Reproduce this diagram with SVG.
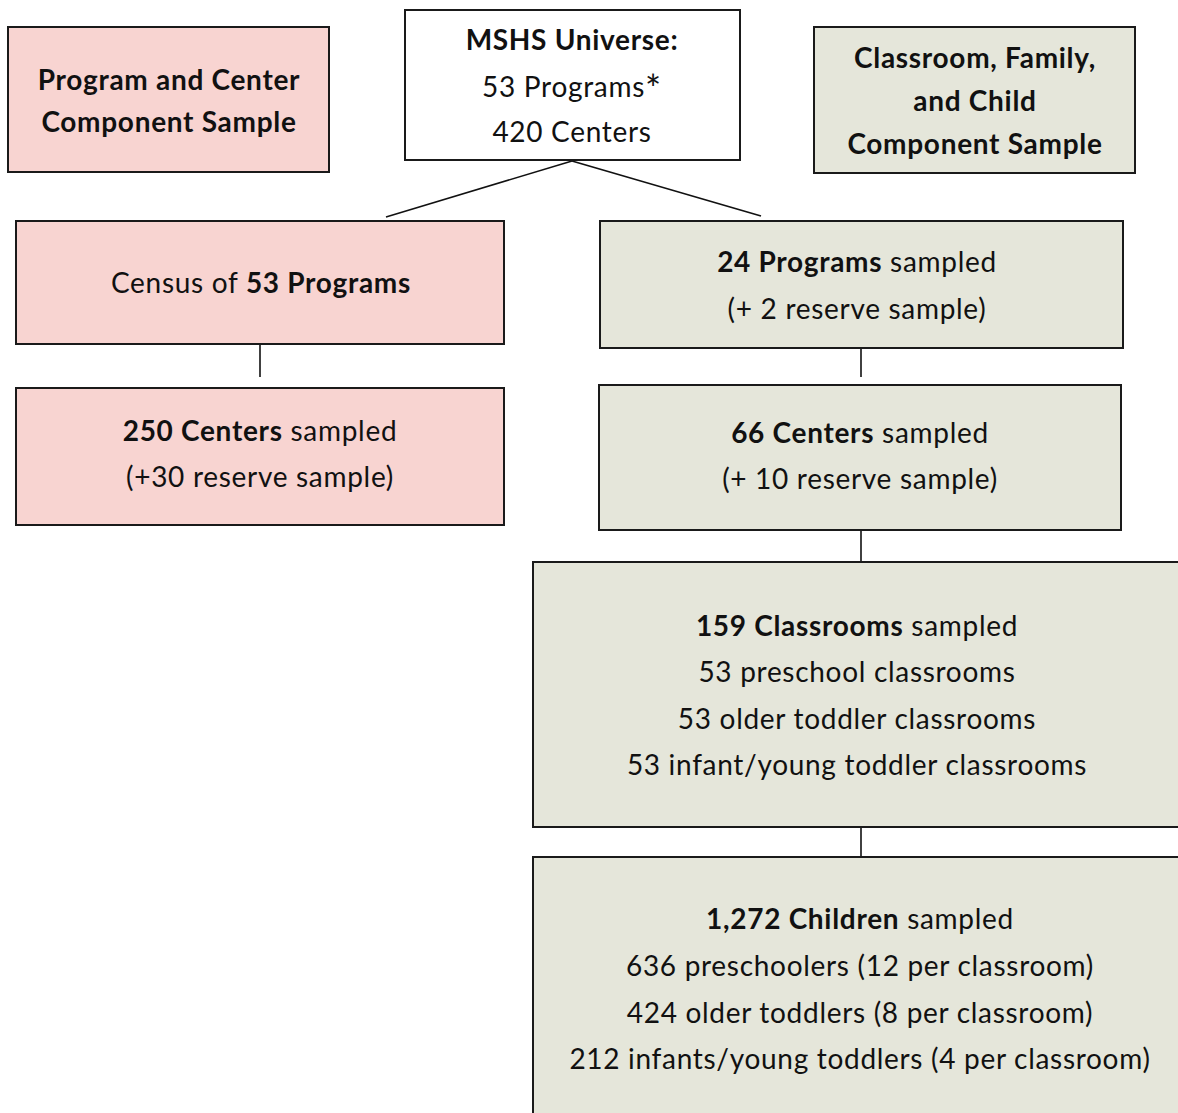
<svg xmlns="http://www.w3.org/2000/svg" width="1178" height="1113" viewBox="0 0 1178 1113">
<style>
.box{stroke:#1a1a1a;stroke-width:2}
.pink{fill:#f8d4d1}
.green{fill:#e5e6da}
.white{fill:#ffffff}
.t{font-family:Lato,"Noto Sans",sans-serif;font-size:28px;letter-spacing:0.7px;fill:#111;text-anchor:middle}
.b{font-weight:bold}
.conn line{stroke:#111;stroke-width:1.6}
</style>
<rect width="1178" height="1113" fill="#ffffff"/>
<g class="conn">
<line x1="572" y1="161" x2="386" y2="217"/>
<line x1="572" y1="161" x2="761" y2="216"/>
<line x1="260" y1="344" x2="260" y2="377"/>
<line x1="861" y1="348" x2="861" y2="377"/>
<line x1="861" y1="530" x2="861" y2="562"/>
<line x1="861" y1="827" x2="861" y2="857"/>
</g>
<g id="pc-label">
<rect class="box pink" x="8" y="27" width="321" height="145"/>
<text class="t b" x="169" y="90">Program and Center</text>
<text class="t b" x="169" y="132">Component Sample</text>
</g>
<g id="universe">
<rect class="box white" x="405" y="10" width="335" height="150"/>
<text class="t b" x="572" y="50">MSHS Universe:</text>
<text class="t" x="572" y="97">53 Programs<tspan font-size="38" dy="6">*</tspan></text>
<text class="t" x="572" y="142">420 Centers</text>
</g>
<g id="cfc-label">
<rect class="box green" x="814" y="27" width="321" height="146"/>
<text class="t b" x="975" y="68">Classroom, Family,</text>
<text class="t b" x="975" y="111">and Child</text>
<text class="t b" x="975" y="154">Component Sample</text>
</g>
<g id="census">
<rect class="box pink" x="16" y="221" width="488" height="123"/>
<text class="t" x="261" y="293">Census of <tspan class="b">53 Programs</tspan></text>
</g>
<g id="programs24">
<rect class="box green" x="600" y="221" width="523" height="127"/>
<text class="t" x="857" y="272"><tspan class="b">24 Programs</tspan> sampled</text>
<text class="t" x="857" y="319">(+ 2 reserve sample)</text>
</g>
<g id="centers250">
<rect class="box pink" x="16" y="388" width="488" height="137"/>
<text class="t" x="260" y="441"><tspan class="b">250 Centers</tspan> sampled</text>
<text class="t" x="260" y="487">(+30 reserve sample)</text>
</g>
<g id="centers66">
<rect class="box green" x="599" y="385" width="522" height="145"/>
<text class="t" x="860" y="443"><tspan class="b">66 Centers</tspan> sampled</text>
<text class="t" x="860" y="489">(+ 10 reserve sample)</text>
</g>
<g id="classrooms">
<rect class="box green" x="533" y="562" width="660" height="265"/>
<text class="t" x="857" y="636"><tspan class="b">159 Classrooms</tspan> sampled</text>
<text class="t" x="857" y="682">53 preschool classrooms</text>
<text class="t" x="857" y="729">53 older toddler classrooms</text>
<text class="t" x="857" y="775">53 infant/young toddler classrooms</text>
</g>
<g id="children">
<rect class="box green" x="533" y="857" width="660" height="280"/>
<text class="t" x="860" y="929"><tspan class="b">1,272 Children</tspan> sampled</text>
<text class="t" x="860" y="976">636 preschoolers (12 per classroom)</text>
<text class="t" x="860" y="1023">424 older toddlers (8 per classroom)</text>
<text class="t" x="860" y="1069">212 infants/young toddlers (4 per classroom)</text>
</g>
</svg>
